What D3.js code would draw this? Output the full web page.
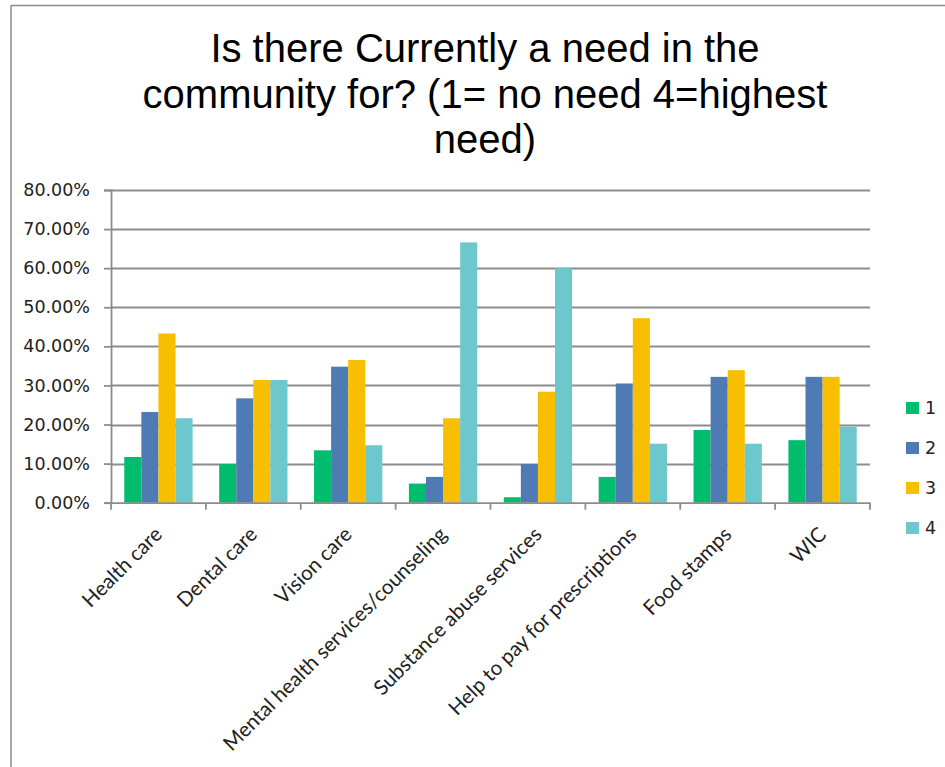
<!DOCTYPE html>
<html>
<head>
<meta charset="utf-8">
<script src="https://cdn.jsdelivr.net/npm/d3@7"></script>
<style>
  html, body { margin: 0; padding: 0; background: #fff; }
  svg { display: block; }
</style>
</head>
<body>
<svg id="chart" width="945" height="767"></svg>
<script>
const categories = ["Health care", "Dental care", "Vision care", "Mental health services/counseling",
  "Substance abuse services", "Help to pay for prescriptions", "Food stamps", "WIC"];
const seriesNames = ["1", "2", "3", "4"];
const series1 = [0.117, 0.099, 0.134, 0.049, 0.014, 0.066, 0.186, 0.160];
const series2 = [0.232, 0.267, 0.348, 0.066, 0.099, 0.305, 0.322, 0.322];
const series3 = [0.433, 0.314, 0.365, 0.216, 0.284, 0.472, 0.339, 0.322];
const series4 = [0.216, 0.314, 0.147, 0.666, 0.600, 0.151, 0.151, 0.194];
const yTicks = [0, 0.1, 0.2, 0.3, 0.4, 0.5, 0.6, 0.7, 0.8];
const titleLines = ["Is there Currently a need in the", "community for? (1= no need 4=highest", "need)"];
const colors = ["#00BD6E", "#4F7BB4", "#F8BE00", "#6CC8CC"];

const allSeries = [series1, series2, series3, series4];
const svg = d3.select("#chart");

// frame (left and top edges visible)
svg.append("line").attr("x1", 11).attr("x2", 11).attr("y1", 5.5).attr("y2", 767)
  .attr("stroke", "#8a8a8a").attr("stroke-width", 1.5);
svg.append("line").attr("x1", 11).attr("x2", 945).attr("y1", 5.5).attr("y2", 5.5)
  .attr("stroke", "#8a8a8a").attr("stroke-width", 1.5);

// title
svg.append("text")
  .attr("font-family", "Liberation Sans, Arial, sans-serif")
  .attr("font-size", 40).attr("fill", "#000").attr("text-anchor", "middle")
  .selectAll("tspan").data(titleLines).join("tspan")
  .attr("x", 485).attr("y", (d, i) => 62 + i * 45.5).text(d => d);

const plotLeft = 111, plotRight = 870, plotTop = 190, plotBottom = 502.7;
const x = d3.scaleBand().domain(categories).range([plotLeft, plotRight]).paddingInner(0).paddingOuter(0);
const y = d3.scaleLinear().domain([0, 0.8]).range([plotBottom, plotTop]);
const groupPad = 0.28;
const x1 = d3.scaleBand().domain(seriesNames)
  .range([x.bandwidth() * groupPad / 2, x.bandwidth() * (1 - groupPad / 2)]);

// gridlines
svg.append("g").selectAll("line").data(yTicks.slice(1)).join("line")
  .attr("x1", plotLeft).attr("x2", plotRight)
  .attr("y1", d => Math.round(y(d)) + 0.5).attr("y2", d => Math.round(y(d)) + 0.5)
  .attr("stroke", "#8c8c8c").attr("stroke-width", 1.8);

// bars
const groups = svg.append("g").selectAll("g").data(categories).join("g")
  .attr("transform", d => `translate(${x(d)},0)`);
groups.selectAll("rect")
  .data((c, ci) => seriesNames.map((s, si) => ({ s, si, v: allSeries[si][ci] })))
  .join("rect")
  .attr("x", d => x1(d.s)).attr("width", x1.bandwidth())
  .attr("y", d => y(d.v)).attr("height", d => plotBottom - y(d.v))
  .attr("fill", d => colors[d.si]);

// y axis
const yAxis = svg.append("g").attr("transform", `translate(${plotLeft},0)`)
  .call(d3.axisLeft(y).tickValues(yTicks).tickSize(7).tickPadding(14)
    .tickFormat(d => (d * 100).toFixed(2) + "%"));
yAxis.select(".domain").attr("stroke", "#8c8c8c").attr("stroke-width", 1.8);
yAxis.selectAll(".tick line").attr("stroke", "#8c8c8c").attr("stroke-width", 1.8);
yAxis.selectAll(".tick text").attr("font-family", "DejaVu Sans, Verdana, sans-serif")
  .attr("font-size", 17.5).attr("fill", "#222");

// x axis
const xAxis = svg.append("g").attr("transform", `translate(0,${plotBottom})`)
  .call(d3.axisBottom(x).tickSize(0).tickFormat(""));
xAxis.select(".domain").attr("stroke", "#8c8c8c").attr("stroke-width", 1.8);
xAxis.selectAll(".tick").remove();
const boundaries = categories.map(c => x(c)).concat([plotRight]);
xAxis.append("g").selectAll("line").data(boundaries).join("line")
  .attr("x1", d => d).attr("x2", d => d).attr("y1", 0).attr("y2", 7)
  .attr("stroke", "#8c8c8c").attr("stroke-width", 1.8);
xAxis.append("g").selectAll("text").data(categories).join("text")
  .attr("transform", d => `translate(${x(d) + x.bandwidth() / 2 + 5},${33}) rotate(-45)`)
  .attr("text-anchor", "end")
  .attr("font-family", "Lato, Open Sans, sans-serif").attr("font-size", 20.5)
  .attr("fill", "#222").text(d => d);

// legend
const legend = svg.append("g").selectAll("g").data(seriesNames).join("g")
  .attr("transform", (d, i) => `translate(906,${408 + i * 40})`);
legend.append("rect").attr("x", 0).attr("y", -6).attr("width", 13).attr("height", 12)
  .attr("fill", (d, i) => colors[i]);
legend.append("text").attr("x", 19).attr("y", 0).attr("dy", "0.36em")
  .attr("font-family", "DejaVu Sans, Verdana, sans-serif").attr("font-size", 17.5)
  .attr("fill", "#222").text(d => d);
</script>
</body>
</html>
